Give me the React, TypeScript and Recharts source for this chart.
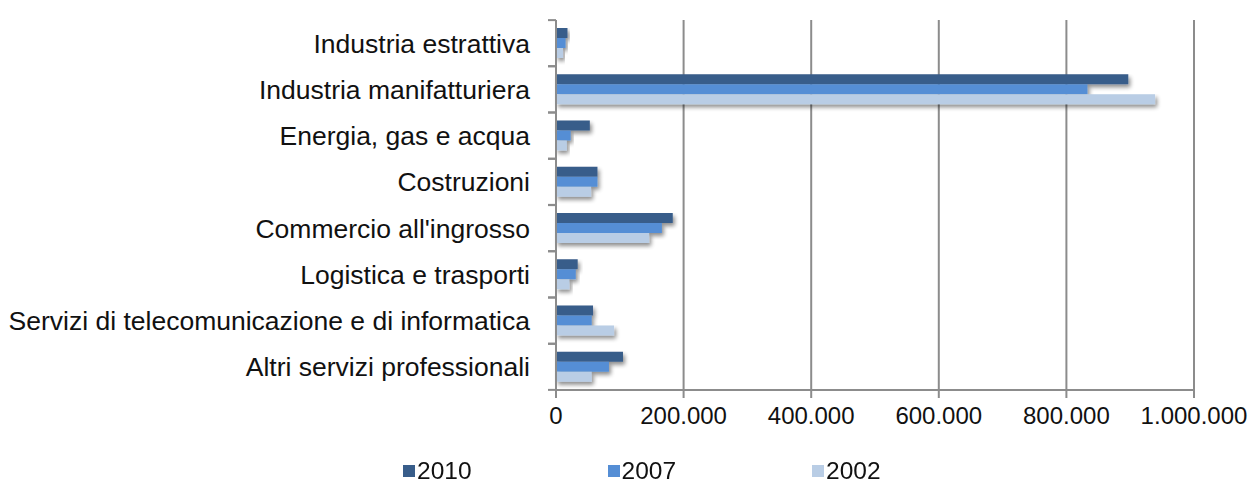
import React from 'react';
import { BarChart, Bar, XAxis, YAxis, CartesianGrid, Legend } from 'recharts';

const categories = [
  'Industria estrattiva',
  'Industria manifatturiera',
  'Energia, gas e acqua',
  'Costruzioni',
  "Commercio all'ingrosso",
  'Logistica e trasporti',
  'Servizi di telecomunicazione e di informatica',
  'Altri servizi professionali',
];
const values2010 = [18000, 897000, 53000, 65000, 183000, 34000, 58000, 105000];
const values2007 = [15000, 833000, 23000, 65000, 166000, 31000, 56000, 83000];
const values2002 = [11000, 939000, 17000, 55000, 146000, 21000, 91000, 56000];
const xTicks = [0, 200000, 400000, 600000, 800000, 1000000];
const seriesNames = ['2010', '2007', '2002'];
const seriesColors = ['#385D8A', '#558ED5', '#B9CDE5'];

const data = categories.map((name, i) => ({
  name,
  v2010: values2010[i],
  v2007: values2007[i],
  v2002: values2002[i],
}));

const FONT = '"Liberation Sans", Arial, sans-serif';
const AXIS_COLOR = '#8c8c8c';

const fmt = (v: number) => String(v).replace(/\B(?=(\d{3})+(?!\d))/g, '.');

const YTick = (props: any) => {
  const { x, y, payload } = props;
  const axisX = x + 26;
  return (
    <g>
      <line x1={axisX - 8} x2={axisX} y1={y - 23} y2={y - 23} stroke={AXIS_COLOR} strokeWidth={2} />
      <line x1={axisX - 8} x2={axisX} y1={y + 23} y2={y + 23} stroke={AXIS_COLOR} strokeWidth={2} />
      <text x={x} y={y} dy="0.355em" textAnchor="end" fontSize={26.5} fill="#111" fontFamily={FONT}>
        {payload.value}
      </text>
    </g>
  );
};

const ShadowBar = (props: any) => {
  const { x, y, width, height, fill } = props;
  if (!width || width <= 0) return null;
  return <rect x={x} y={y} width={width} height={height} fill={fill} filter="url(#barShadow)" />;
};

const LegendContent = () => (
  <div style={{ display: 'flex', fontFamily: FONT, fontSize: 24.5, color: '#111' }}>
    {seriesNames.map((n, i) => (
      <div key={n} style={{ width: 204.5, display: 'flex', alignItems: 'center' }}>
        <span style={{ display: 'inline-block', width: 12, height: 12, background: seriesColors[i], marginRight: 2 }} />
        <span style={{ lineHeight: '28px' }}>{n}</span>
      </div>
    ))}
  </div>
);

export default function App() {
  return (
    <div style={{ position: 'fixed', left: 0, top: 0, width: 1248, height: 483, background: '#fff' }}>
      <BarChart
        width={1248}
        height={483}
        data={data}
        layout="vertical"
        margin={{ top: 20, right: 54, left: 0, bottom: 25 }}
        barCategoryGap={8}
        barGap={0}
      >
        <defs>
          <filter id="barShadow" x="-10%" y="-30%" width="130%" height="200%">
            <feGaussianBlur in="SourceAlpha" stdDeviation="2" />
            <feOffset dx="2" dy="3" result="off" />
            <feComponentTransfer>
              <feFuncA type="linear" slope="0.45" />
            </feComponentTransfer>
            <feMerge>
              <feMergeNode />
              <feMergeNode in="SourceGraphic" />
            </feMerge>
          </filter>
        </defs>
        <CartesianGrid horizontal={false} stroke={AXIS_COLOR} strokeWidth={2} />
        <XAxis
          type="number"
          domain={[0, 1000000]}
          ticks={xTicks}
          tickFormatter={fmt}
          height={40}
          tickSize={8}
          tickMargin={9}
          interval={0}
          stroke={AXIS_COLOR}
          strokeWidth={2}
          tick={{ fontSize: 24, fill: '#111', fontFamily: FONT }}
        />
        <YAxis
          type="category"
          dataKey="name"
          width={556}
          tickSize={8}
          tickMargin={18}
          tickLine={false}
          interval={0}
          stroke={AXIS_COLOR}
          strokeWidth={2}
          tick={<YTick />}
        />
        <Legend
          verticalAlign="bottom"
          content={<LegendContent />}
          wrapperStyle={{ left: 403, top: 457, width: 700, height: 28 }}
        />
        <Bar dataKey="v2010" name="2010" fill={seriesColors[0]} isAnimationActive={false} shape={<ShadowBar />} />
        <Bar dataKey="v2007" name="2007" fill={seriesColors[1]} isAnimationActive={false} shape={<ShadowBar />} />
        <Bar dataKey="v2002" name="2002" fill={seriesColors[2]} isAnimationActive={false} shape={<ShadowBar />} />
      </BarChart>
    </div>
  );
}
